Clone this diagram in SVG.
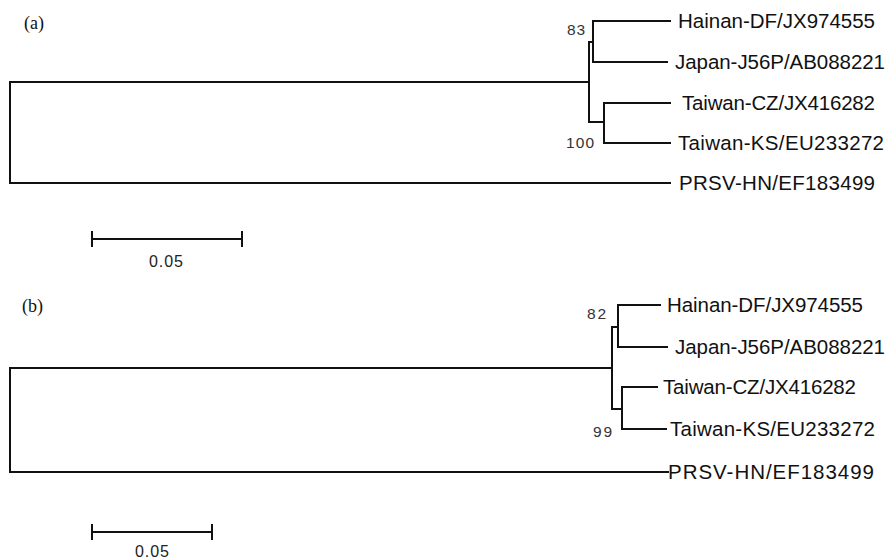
<svg xmlns="http://www.w3.org/2000/svg" width="891" height="559" viewBox="0 0 891 559">
<style>
.br{stroke:#111;stroke-width:2;fill:none;stroke-linecap:square}
.lf{font-family:"Liberation Sans",Arial,sans-serif;font-size:20.5px;fill:#111}
.bs{font-family:"Liberation Sans",Arial,sans-serif;font-size:15.5px;fill:#333}
.pl{font-family:"Liberation Serif","Times New Roman",serif;font-size:18px;fill:#111}
.sc{font-family:"Liberation Sans",Arial,sans-serif;font-size:16px;fill:#222;text-anchor:middle}
</style>
<rect width="891" height="559" fill="#fff"/>
<text class="pl" x="24" y="29">(a)</text>
<text class="pl" x="22" y="312">(b)</text>
<g id="connectors">
<!-- panel a -->
<path class="br" d="M587,82 H10 V183 H670"/>
<path class="br" d="M593,42 H589 V122 H604"/>
<path class="br" d="M670,21 H593 V62 H667"/>
<path class="br" d="M670,103 H604 V143 H670"/>
<!-- panel b -->
<path class="br" d="M612,368 H10 V472 H668"/>
<path class="br" d="M618,327 H612 V409 H622"/>
<path class="br" d="M660,305 H618 V347 H667"/>
<path class="br" d="M657,387 H622 V429 H666"/>
</g>
<g id="a-node-83"><text class="bs" x="567" y="35" textLength="18">83</text></g>
<g id="a-node-100"><text class="bs" x="566" y="148" textLength="28">100</text></g>
<g id="a-hainan"><text class="lf" x="678" y="28" textLength="197">Hainan-DF/JX974555</text></g>
<g id="a-japan"><text class="lf" x="675" y="69" textLength="210">Japan-J56P/AB088221</text></g>
<g id="a-taiwan-cz"><text class="lf" x="682" y="110" textLength="193">Taiwan-CZ/JX416282</text></g>
<g id="a-taiwan-ks"><text class="lf" x="678" y="150" textLength="206">Taiwan-KS/EU233272</text></g>
<g id="a-prsv"><text class="lf" x="679" y="190" textLength="196">PRSV-HN/EF183499</text></g>
<g id="a-scale">
<path class="br" d="M92,239 H242 M92,232 V246 M242,232 V246"/>
<text class="sc" x="166" y="267" textLength="34">0.05</text>
</g>
<g id="b-node-82"><text class="bs" x="587" y="319" textLength="19">82</text></g>
<g id="b-node-99"><text class="bs" x="593" y="437" textLength="19">99</text></g>
<g id="b-hainan"><text class="lf" x="667" y="312" textLength="196">Hainan-DF/JX974555</text></g>
<g id="b-japan"><text class="lf" x="675" y="354" textLength="210">Japan-J56P/AB088221</text></g>
<g id="b-taiwan-cz"><text class="lf" x="663" y="394" textLength="193">Taiwan-CZ/JX416282</text></g>
<g id="b-taiwan-ks"><text class="lf" x="670" y="436" textLength="205">Taiwan-KS/EU233272</text></g>
<g id="b-prsv"><text class="lf" x="668" y="479" textLength="206">PRSV-HN/EF183499</text></g>
<g id="b-scale">
<path class="br" d="M92,532 H212 M92,525 V539 M212,525 V539"/>
<text class="sc" x="152" y="557" textLength="34">0.05</text>
</g>
</svg>
